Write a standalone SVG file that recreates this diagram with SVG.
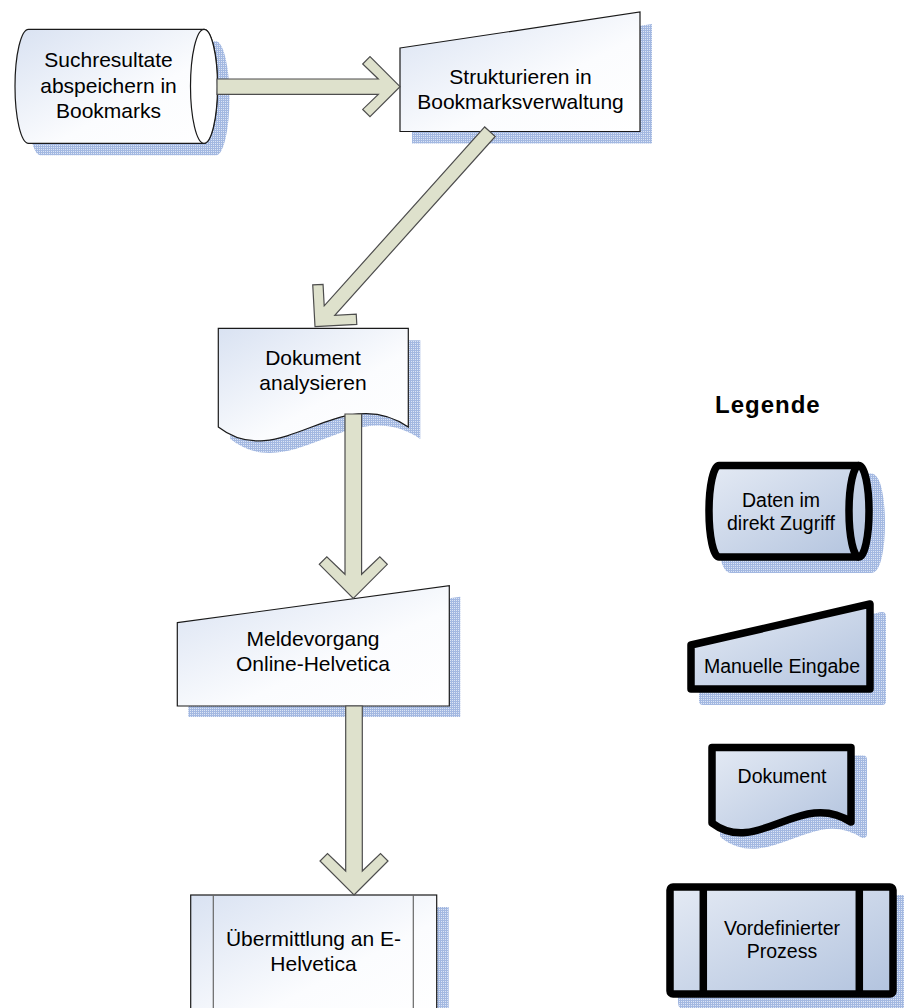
<svg xmlns="http://www.w3.org/2000/svg" width="904" height="1008" viewBox="0 0 904 1008">
<defs>
  <pattern id="hatch" width="2" height="2" patternUnits="userSpaceOnUse">
    <rect width="2" height="2" fill="#dce5f5"/>
    <rect width="2" height="1" fill="#a3b8e1"/>
    <rect width="1" height="2" fill="#a3b8e1"/>
  </pattern>
  <linearGradient id="gMain" x1="0" y1="0" x2="1" y2="1">
    <stop offset="0" stop-color="#d9e2f2"/>
    <stop offset="0.6" stop-color="#fbfcfe"/>
    <stop offset="1" stop-color="#ffffff"/>
  </linearGradient>
  <linearGradient id="gLeg" x1="0" y1="0" x2="1" y2="1">
    <stop offset="0" stop-color="#e4eaf4"/>
    <stop offset="1" stop-color="#b2c3de"/>
  </linearGradient>
</defs>
<style>
  .shadow { fill: url(#hatch); stroke: none; }
  .lshadow { fill: url(#hatch); stroke: url(#hatch); stroke-width: 8; stroke-linejoin: round; }
  .main { fill: url(#gMain); stroke: #1a1a1a; stroke-width: 1.2; }
  .leg { fill: url(#gLeg); stroke: #000; stroke-width: 7.5; stroke-linejoin: round; }
  .legline { fill: none; stroke: #000; stroke-width: 7.5; }
  .inner { fill: none; stroke: #666; stroke-width: 1.2; }
  .t { font-family: "Liberation Sans", Arial, sans-serif; font-size: 21px; fill: #000; text-anchor: middle; }
  .tl { font-family: "Liberation Sans", Arial, sans-serif; font-size: 19.5px; fill: #000; text-anchor: middle; }
  .title { font-family: "Liberation Sans", Arial, sans-serif; font-size: 24px; font-weight: bold; fill: #000; letter-spacing: 1px; }
  .arrow { fill: #dee1cc; stroke: #4d4d4d; stroke-width: 1.2; stroke-linejoin: miter; }
</style>

<g id="node-suchresultate">
  <path class="shadow" transform="translate(12,12)" d="M28.5,29.3 H204 A13.5,57 0 0 1 204,143.3 H28.5 A13.5,57 0 0 1 28.5,29.3 Z"/>
  <path class="main" d="M28.5,29.3 H204 A13.5,57 0 0 1 204,143.3 H28.5 A13.5,57 0 0 1 28.5,29.3 Z"/>
  <path d="M204,29.3 A13.5,57 0 0 1 204,143.3 A13.5,57 0 0 1 204,29.3 Z" fill="#ffffff" stroke="#1a1a1a" stroke-width="1.2"/>
  <text class="t" x="108.5" y="67">Suchresultate</text>
  <text class="t" x="108.5" y="92.5">abspeichern in</text>
  <text class="t" x="108.5" y="118">Bookmarks</text>
</g>

<g id="node-strukturieren">
  <path class="shadow" transform="translate(12,12)" d="M400,48 L640,12 V131.5 H400 Z"/>
  <path class="main" d="M400,48 L640,12 V131.5 H400 Z"/>
  <text class="t" x="520.5" y="84">Strukturieren in</text>
  <text class="t" x="520.5" y="109.3">Bookmarksverwaltung</text>
</g>

<g id="node-dokument">
  <path class="shadow" transform="translate(12,12)" d="M218.3,328.3 H408.3 V427 C340,380 280,475 218.3,427 Z"/>
  <path class="main" d="M218.3,328.3 H408.3 V427 C340,380 280,475 218.3,427 Z"/>
  <text class="t" x="313" y="365">Dokument</text>
  <text class="t" x="313" y="390">analysieren</text>
</g>

<g id="node-meldevorgang">
  <path class="shadow" transform="translate(11,11)" d="M177.3,622.7 L449.3,585.7 V706 H177.3 Z"/>
  <path class="main" d="M177.3,622.7 L449.3,585.7 V706 H177.3 Z"/>
  <text class="t" x="313" y="645.5">Meldevorgang</text>
  <text class="t" x="313" y="670.5">Online-Helvetica</text>
</g>

<g id="node-uebermittlung">
  <rect class="shadow" x="202.7" y="907" width="246" height="130"/>
  <rect class="main" x="190.7" y="895" width="246" height="130"/>
  <line class="inner" x1="213.3" y1="895" x2="213.3" y2="1025"/>
  <line class="inner" x1="413.3" y1="895" x2="413.3" y2="1025"/>
  <text class="t" x="313.5" y="945.7">Übermittlung an E-</text>
  <text class="t" x="313.5" y="970.7">Helvetica</text>
</g>

<g id="legend-title">
  <text class="title" x="715" y="413">Legende</text>
</g>

<g id="legend-daten">
  <path class="lshadow" transform="translate(12,12)" d="M719,465.5 H859 A10,45.75 0 0 1 859,557 H719 A10,45.75 0 0 1 719,465.5 Z"/>
  <path class="leg" d="M719,465.5 H859 A10,45.75 0 0 1 859,557 H719 A10,45.75 0 0 1 719,465.5 Z"/>
  <path class="legline" d="M859,465.5 A10,45.75 0 0 0 859,557"/>
  <text class="tl" x="781" y="507">Daten im</text>
  <text class="tl" x="781" y="530">direkt Zugriff</text>
</g>

<g id="legend-manuell">
  <path class="lshadow" transform="translate(12,12)" d="M691,645 L870,604 V689 H691 Z"/>
  <path class="leg" d="M691,645 L870,604 V689 H691 Z"/>
  <text class="tl" x="782" y="673.3">Manuelle Eingabe</text>
</g>

<g id="legend-dokument">
  <path class="lshadow" transform="translate(12,12)" d="M712,747.5 H851 V822 C801,789 757,857 712,823 Z"/>
  <path class="leg" d="M712,747.5 H851 V822 C801,789 757,857 712,823 Z"/>
  <text class="tl" x="782" y="783.3">Dokument</text>
</g>

<g id="legend-prozess">
  <rect class="lshadow" x="682" y="899" width="223" height="107" rx="3"/>
  <rect class="leg" x="670" y="887" width="223" height="107" rx="3"/>
  <line class="legline" x1="703.3" y1="887" x2="703.3" y2="994"/>
  <line class="legline" x1="859.3" y1="887" x2="859.3" y2="994"/>
  <text class="tl" x="782" y="935">Vordefinierter</text>
  <text class="tl" x="782" y="958.3">Prozess</text>
</g>

<g id="connectors">
  <path class="arrow" d="M400,86.7 L370,56.7 L362.7,64 L378.3,79 L217,79 L217,94.4 L378.3,94.4 L362.7,109.4 L370,116.7 Z"/>
  <path class="arrow" transform="translate(315,326.7) rotate(131.9)" d="M0,0 L-29.6,-29.6 L-36.9,-22.3 L-21.7,-7.1 L-262,-7.1 L-262,7.1 L-21.7,7.1 L-36.9,22.3 L-29.6,29.6 Z"/>
  <path class="arrow" transform="translate(353.3,598.3) rotate(90)" d="M0,0 L-34,-34 L-41.5,-26.5 L-24,-8.3 L-184.3,-8.3 L-184.3,8.3 L-24,8.3 L-41.5,26.5 L-34,34 Z"/>
  <path class="arrow" transform="translate(354,895) rotate(90)" d="M0,0 L-34,-34 L-41.5,-26.5 L-24,-8.3 L-189,-8.3 L-189,8.3 L-24,8.3 L-41.5,26.5 L-34,34 Z"/>
</g>
</svg>
